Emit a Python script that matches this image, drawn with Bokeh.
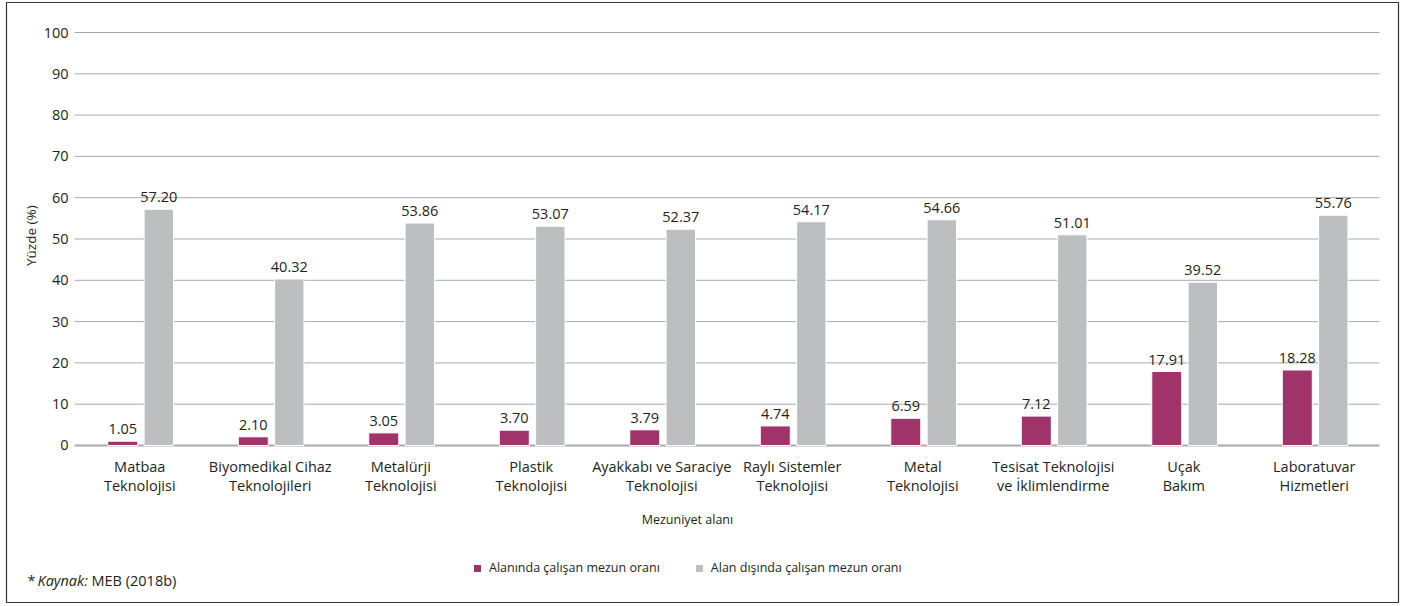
import math
from bokeh.plotting import figure
from bokeh.models import ColumnDataSource, Range1d, Legend, LegendItem
from bokeh.transform import dodge
from bokeh.core.properties import value
from bokeh.embed import file_html
from bokeh.resources import INLINE

categories = ["Matbaa\nTeknolojisi", "Biyomedikal Cihaz\nTeknolojileri", "Metalürji\nTeknolojisi",
              "Plastik\nTeknolojisi", "Ayakkabı ve Saraciye\nTeknolojisi", "Raylı Sistemler\nTeknolojisi",
              "Metal\nTeknolojisi", "Tesisat Teknolojisi\nve İklimlendirme", "Uçak\nBakım",
              "Laboratuvar\nHizmetleri"]
in_field = [1.05, 2.10, 3.05, 3.70, 3.79, 4.74, 6.59, 7.12, 17.91, 18.28]
out_field = [57.20, 40.32, 53.86, 53.07, 52.37, 54.17, 54.66, 51.01, 39.52, 55.76]
series_names = ["Alanında çalışan mezun oranı", "Alan dışında çalışan mezun oranı"]
y_ticks = list(range(0, 101, 10))
x_title = "Mezuniyet alanı"
y_title = "Yüzde (%)"

FONT = "Open Sans"
FS = "14.5px"
FS_SMALL = "12.5px"
TXT = "#231F20"
MAGENTA = "#A0346A"
GRAY = "#BCBEC0"
GRID = "#A7A9AC"

n = len(categories)
src = ColumnDataSource(dict(
    x=list(range(n)),
    cat=categories,
    a=in_field,
    b=out_field,
    a_lbl=[f"{v:.2f}" for v in in_field],
    b_lbl=[f"{v:.2f}" for v in out_field],
))

# frame covers the whole bordered box; axes area is drawn inside it
p = figure(width=1400, height=604, output_backend="svg", toolbar_location=None,
           x_axis_type=None, y_axis_type=None,
           x_range=Range1d(-1.02107, 9.6456), y_range=Range1d(-38.015, 107.264),
           min_border_left=6, min_border_right=2, min_border_top=2, min_border_bottom=2)
p.outline_line_color = "#333333"
p.outline_line_width = 1.2
p.xgrid.visible = False
p.ygrid.visible = False

lo, hi = -0.5, n - 0.5

# horizontal grid lines
p.segment(x0=lo, x1=hi, y0=y_ticks[1:], y1=y_ticks[1:], line_color=GRID, line_width=1)
p.segment(x0=lo, x1=hi, y0=y_ticks[0], y1=y_ticks[0], line_color=GRID, line_width=2)

# y tick labels
p.text(x=lo, y=y_ticks, text=[str(t) for t in y_ticks], x_offset=-6,
       text_align="right", text_baseline="middle",
       text_font=value(FONT), text_font_size=FS, text_color=TXT)

# y axis title
p.text(x=[-0.83], y=[50.8], text=[y_title], angle=math.pi / 2,
       text_align="center", text_baseline="middle",
       text_font=value(FONT), text_font_size="13.5px", text_color=TXT)

# bars
r1 = p.vbar(x=dodge("x", -0.13), top="a", width=0.23, source=src,
            fill_color=MAGENTA, line_color="white", line_width=1)
r2 = p.vbar(x=dodge("x", 0.146), top="b", width=0.225, source=src,
            fill_color=GRAY, line_color="white", line_width=1)

# value labels
p.text(x=dodge("x", -0.13), y="a", text="a_lbl", source=src,
       text_align="center", text_baseline="bottom", y_offset=-7,
       text_font=value(FONT), text_font_size=FS, text_color=TXT)
p.text(x=dodge("x", 0.146), y="b", text="b_lbl", source=src,
       text_align="center", text_baseline="bottom", y_offset=-7,
       text_font=value(FONT), text_font_size=FS, text_color=TXT)

# category labels
p.text(x="x", y=0, text="cat", source=src, y_offset=12,
       text_align="center", text_baseline="top", text_line_height=1.0,
       text_font=value(FONT), text_font_size=FS, text_color=TXT)

# x axis title
p.text(x=[4.197], y=[-17.9], text=[x_title], text_align="center", text_baseline="middle",
       text_font=value(FONT), text_font_size=FS_SMALL, text_color=TXT)

# source note
p.text(x=[-0.86], y=[-32.7], text=["*"], text_align="left", text_baseline="middle",
       text_font=value(FONT), text_font_size=FS, text_color=TXT)
p.text(x=[-0.86], y=[-32.7], text=["Kaynak:"], x_offset=10, text_align="left",
       text_baseline="middle", text_font=value(FONT), text_font_size=FS,
       text_font_style="italic", text_color=TXT)
p.text(x=[-0.86], y=[-32.7], text=["MEB (2018b)"], x_offset=64, text_align="left",
       text_baseline="middle", text_font=value(FONT), text_font_size=FS, text_color=TXT)

legend = Legend(items=[LegendItem(label=series_names[0], renderers=[r1]),
                       LegendItem(label=series_names[1], renderers=[r2])],
                orientation="horizontal", location=(466, 26),
                glyph_width=10, glyph_height=10, label_height=12, label_standoff=7,
                spacing=34, padding=0, margin=0,
                border_line_color=None, background_fill_alpha=0,
                label_text_font=FONT, label_text_font_size=FS_SMALL, label_text_color=TXT)
p.add_layout(legend, "center")

open("out.html", "w").write(file_html(p, INLINE))
